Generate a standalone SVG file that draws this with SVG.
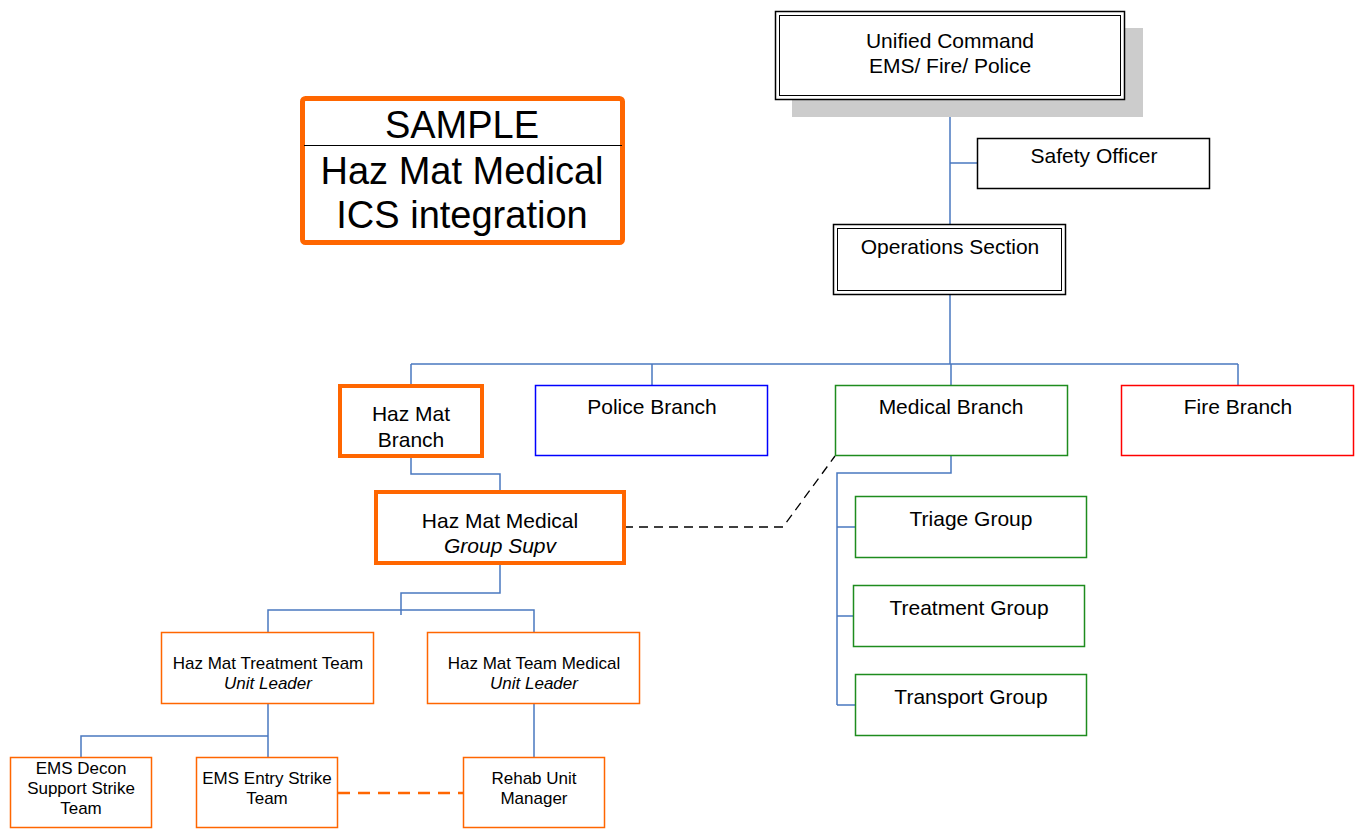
<svg xmlns="http://www.w3.org/2000/svg" width="1359" height="829" viewBox="0 0 1359 829">
<style>
text{font-family:"Liberation Sans",Arial,sans-serif;fill:#000;text-anchor:middle}
.t20{font-size:21px}
.t16{font-size:17px}
.big{font-size:38px}
.it{font-style:italic}
.blk{fill:#fff;stroke:#000;stroke-width:1.5}
.thin{fill:none;stroke:#000;stroke-width:1}
.orT{fill:#fff;stroke:#ff6600;stroke-width:4}
.orS{fill:#fff;stroke:#ff6600;stroke-width:1.5}
.grn{fill:#fff;stroke:#1e8c1e;stroke-width:1.5}
.blu{fill:#fff;stroke:#0000ff;stroke-width:1.5}
.red{fill:#fff;stroke:#ff0000;stroke-width:1.5}
.con{fill:none;stroke:#4a78c0;stroke-width:1.5}
</style>
<rect width="1359" height="829" fill="#fff"/>

<g id="connectors">
<path class="con" d="M950,99V225M950,163H977M950,295V364M411,364H1238M411,364V385M652,364V385M951,364V385M1238,364V385"/>
<path class="con" d="M411,456V474H500V491"/>
<path class="con" d="M951,456V473H837V705M837,527H855M837,616H853M837,705H855"/>
<path class="con" d="M500,563V593H401V615M268,632V610H534V632"/>
<path class="con" d="M268,704V757M268,736H81V757M534,704V757"/>
<path d="M624,527H783L835,456" fill="none" stroke="#000" stroke-width="1.3" stroke-dasharray="9,6"/>
<path d="M338,793H463" fill="none" stroke="#ff6600" stroke-width="2.5" stroke-dasharray="12,8"/>
</g>

<g id="sample">
<rect x="302.5" y="98.5" width="320" height="144" rx="3" fill="#fff" stroke="#ff6600" stroke-width="5"/>
<line x1="304" y1="145.5" x2="622" y2="145.5" stroke="#000" stroke-width="1.2"/>
<text class="big" x="462" y="138">SAMPLE</text>
<text class="big" x="462" y="184">Haz Mat Medical</text>
<text class="big" x="462" y="228">ICS integration</text>
</g>

<g id="unified-command">
<rect x="792" y="28" width="351" height="89" fill="#cccccc"/>
<rect x="775.5" y="11.5" width="349" height="88" class="blk"/>
<rect x="779.5" y="15.5" width="341" height="80" class="thin"/>
<text class="t20" x="950" y="48">Unified Command</text>
<text class="t20" x="950" y="73">EMS/ Fire/ Police</text>
</g>

<g id="safety-officer">
<rect x="977.5" y="138.5" width="232" height="50" class="blk"/>
<text class="t20" x="1094" y="163">Safety Officer</text>
</g>

<g id="operations-section">
<rect x="833.5" y="224.5" width="232" height="70" class="blk"/>
<rect x="837.5" y="228.5" width="224" height="62" class="thin"/>
<text class="t20" x="950" y="254">Operations Section</text>
</g>

<g id="hazmat-branch">
<rect x="340" y="386" width="142" height="70" class="orT"/>
<text class="t20" x="411" y="421">Haz Mat</text>
<text class="t20" x="411" y="447">Branch</text>
</g>

<g id="police-branch">
<rect x="535.5" y="385.5" width="232" height="70" class="blu"/>
<text class="t20" x="652" y="414">Police Branch</text>
</g>

<g id="medical-branch">
<rect x="835.5" y="385.5" width="232" height="70" class="grn"/>
<text class="t20" x="951" y="414">Medical Branch</text>
</g>

<g id="fire-branch">
<rect x="1121.5" y="385.5" width="232" height="70" class="red"/>
<text class="t20" x="1238" y="414">Fire Branch</text>
</g>

<g id="hazmat-medical-group">
<rect x="376" y="492" width="248" height="71" class="orT"/>
<text class="t20" x="500" y="528">Haz Mat Medical</text>
<text class="t20 it" x="500" y="553">Group Supv</text>
</g>

<g id="triage-group">
<rect x="855.5" y="496.5" width="231" height="61" class="grn"/>
<text class="t20" x="971" y="526">Triage Group</text>
</g>

<g id="treatment-group">
<rect x="853.5" y="585.5" width="231" height="61" class="grn"/>
<text class="t20" x="969" y="615">Treatment Group</text>
</g>

<g id="transport-group">
<rect x="855.5" y="674.5" width="231" height="61" class="grn"/>
<text class="t20" x="971" y="704">Transport Group</text>
</g>

<g id="hazmat-treatment-team">
<rect x="161.5" y="632.5" width="212" height="71" class="orS"/>
<text class="t16" x="268" y="669">Haz Mat Treatment Team</text>
<text class="t16 it" x="268" y="689">Unit Leader</text>
</g>

<g id="hazmat-team-medical">
<rect x="427.5" y="632.5" width="212" height="71" class="orS"/>
<text class="t16" x="534" y="669">Haz Mat Team Medical</text>
<text class="t16 it" x="534" y="689">Unit Leader</text>
</g>

<g id="ems-decon">
<rect x="10.5" y="757.5" width="141" height="70" class="orS"/>
<text class="t16" x="81" y="774">EMS Decon</text>
<text class="t16" x="81" y="794">Support Strike</text>
<text class="t16" x="81" y="814">Team</text>
</g>

<g id="ems-entry">
<rect x="196.5" y="757.5" width="141" height="70" class="orS"/>
<text class="t16" x="267" y="784">EMS Entry Strike</text>
<text class="t16" x="267" y="804">Team</text>
</g>

<g id="rehab-unit">
<rect x="463.5" y="757.5" width="141" height="70" class="orS"/>
<text class="t16" x="534" y="784">Rehab Unit</text>
<text class="t16" x="534" y="804">Manager</text>
</g>
</svg>
